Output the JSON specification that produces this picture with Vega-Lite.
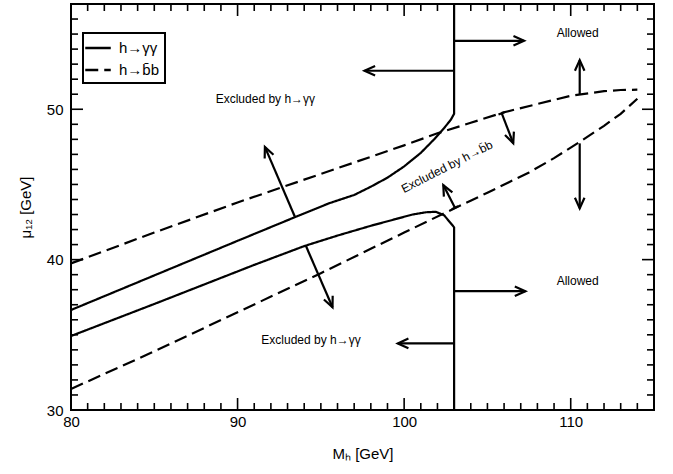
{
  "$schema": "https://vega.github.io/schema/vega-lite/v6.json",
  "width": 583,
  "height": 406,
  "autosize": {"type": "none"},
  "padding": {"left": 71, "top": 4, "right": 19, "bottom": 64},
  "config": {
    "font": "Liberation Sans",
    "view": {"stroke": "black", "strokeWidth": 2},
    "legend": {"strokeWidth": 2},
    "axis": {"grid": false, "domain": false, "labelColor": "black", "titleColor": "black", "tickColor": "black", "titleFontWeight": "normal"}
  },
  "data": {"values": [
    {"kind": "curve", "curve": "gu", "process": "h→γγ", "i": 1, "m": 80, "mu": 36.65},
    {"kind": "curve", "curve": "gu", "process": "h→γγ", "i": 2, "m": 85, "mu": 38.95},
    {"kind": "curve", "curve": "gu", "process": "h→γγ", "i": 3, "m": 90, "mu": 41.25},
    {"kind": "curve", "curve": "gu", "process": "h→γγ", "i": 4, "m": 93.5, "mu": 42.85},
    {"kind": "curve", "curve": "gu", "process": "h→γγ", "i": 5, "m": 95.5, "mu": 43.75},
    {"kind": "curve", "curve": "gu", "process": "h→γγ", "i": 6, "m": 97, "mu": 44.3},
    {"kind": "curve", "curve": "gu", "process": "h→γγ", "i": 7, "m": 98, "mu": 44.85},
    {"kind": "curve", "curve": "gu", "process": "h→γγ", "i": 8, "m": 99, "mu": 45.45},
    {"kind": "curve", "curve": "gu", "process": "h→γγ", "i": 9, "m": 100, "mu": 46.2},
    {"kind": "curve", "curve": "gu", "process": "h→γγ", "i": 10, "m": 101, "mu": 47.1},
    {"kind": "curve", "curve": "gu", "process": "h→γγ", "i": 11, "m": 101.8, "mu": 48.0},
    {"kind": "curve", "curve": "gu", "process": "h→γγ", "i": 12, "m": 102.4, "mu": 48.75},
    {"kind": "curve", "curve": "gu", "process": "h→γγ", "i": 13, "m": 102.8, "mu": 49.3},
    {"kind": "curve", "curve": "gu", "process": "h→γγ", "i": 14, "m": 103, "mu": 49.7},
    {"kind": "curve", "curve": "gu", "process": "h→γγ", "i": 15, "m": 103, "mu": 57},
    {"kind": "curve", "curve": "gl", "process": "h→γγ", "i": 1, "m": 80, "mu": 34.92},
    {"kind": "curve", "curve": "gl", "process": "h→γγ", "i": 2, "m": 85, "mu": 37.05},
    {"kind": "curve", "curve": "gl", "process": "h→γγ", "i": 3, "m": 88, "mu": 38.35},
    {"kind": "curve", "curve": "gl", "process": "h→γγ", "i": 4, "m": 91, "mu": 39.65},
    {"kind": "curve", "curve": "gl", "process": "h→γγ", "i": 5, "m": 94, "mu": 40.9},
    {"kind": "curve", "curve": "gl", "process": "h→γγ", "i": 6, "m": 96, "mu": 41.6},
    {"kind": "curve", "curve": "gl", "process": "h→γγ", "i": 7, "m": 98, "mu": 42.25},
    {"kind": "curve", "curve": "gl", "process": "h→γγ", "i": 8, "m": 99.5, "mu": 42.7},
    {"kind": "curve", "curve": "gl", "process": "h→γγ", "i": 9, "m": 100.5, "mu": 43.0},
    {"kind": "curve", "curve": "gl", "process": "h→γγ", "i": 10, "m": 101.3, "mu": 43.15},
    {"kind": "curve", "curve": "gl", "process": "h→γγ", "i": 11, "m": 101.9, "mu": 43.18},
    {"kind": "curve", "curve": "gl", "process": "h→γγ", "i": 12, "m": 102.4, "mu": 42.95},
    {"kind": "curve", "curve": "gl", "process": "h→γγ", "i": 13, "m": 103, "mu": 42.15},
    {"kind": "curve", "curve": "gl", "process": "h→γγ", "i": 14, "m": 103, "mu": 30},
    {"kind": "curve", "curve": "bu", "process": "h→b̄b", "i": 1, "m": 80, "mu": 39.75},
    {"kind": "curve", "curve": "bu", "process": "h→b̄b", "i": 2, "m": 85, "mu": 41.8},
    {"kind": "curve", "curve": "bu", "process": "h→b̄b", "i": 3, "m": 90, "mu": 43.8},
    {"kind": "curve", "curve": "bu", "process": "h→b̄b", "i": 4, "m": 95, "mu": 45.7},
    {"kind": "curve", "curve": "bu", "process": "h→b̄b", "i": 5, "m": 100, "mu": 47.6},
    {"kind": "curve", "curve": "bu", "process": "h→b̄b", "i": 6, "m": 102, "mu": 48.4},
    {"kind": "curve", "curve": "bu", "process": "h→b̄b", "i": 7, "m": 104, "mu": 49.1},
    {"kind": "curve", "curve": "bu", "process": "h→b̄b", "i": 8, "m": 106, "mu": 49.8},
    {"kind": "curve", "curve": "bu", "process": "h→b̄b", "i": 9, "m": 108, "mu": 50.35},
    {"kind": "curve", "curve": "bu", "process": "h→b̄b", "i": 10, "m": 110, "mu": 50.9},
    {"kind": "curve", "curve": "bu", "process": "h→b̄b", "i": 11, "m": 112, "mu": 51.2},
    {"kind": "curve", "curve": "bu", "process": "h→b̄b", "i": 12, "m": 113, "mu": 51.28},
    {"kind": "curve", "curve": "bu", "process": "h→b̄b", "i": 13, "m": 114, "mu": 51.3},
    {"kind": "curve", "curve": "bl", "process": "h→b̄b", "i": 1, "m": 80, "mu": 31.4},
    {"kind": "curve", "curve": "bl", "process": "h→b̄b", "i": 2, "m": 85, "mu": 33.9},
    {"kind": "curve", "curve": "bl", "process": "h→b̄b", "i": 3, "m": 90, "mu": 36.5},
    {"kind": "curve", "curve": "bl", "process": "h→b̄b", "i": 4, "m": 95, "mu": 39.1},
    {"kind": "curve", "curve": "bl", "process": "h→b̄b", "i": 5, "m": 100, "mu": 41.8},
    {"kind": "curve", "curve": "bl", "process": "h→b̄b", "i": 6, "m": 103, "mu": 43.4},
    {"kind": "curve", "curve": "bl", "process": "h→b̄b", "i": 7, "m": 105, "mu": 44.45},
    {"kind": "curve", "curve": "bl", "process": "h→b̄b", "i": 8, "m": 107.5, "mu": 45.8},
    {"kind": "curve", "curve": "bl", "process": "h→b̄b", "i": 9, "m": 109, "mu": 46.75},
    {"kind": "curve", "curve": "bl", "process": "h→b̄b", "i": 10, "m": 110.5, "mu": 47.8},
    {"kind": "curve", "curve": "bl", "process": "h→b̄b", "i": 11, "m": 112, "mu": 48.9},
    {"kind": "curve", "curve": "bl", "process": "h→b̄b", "i": 12, "m": 113, "mu": 49.7},
    {"kind": "curve", "curve": "bl", "process": "h→b̄b", "i": 13, "m": 114, "mu": 50.7},
    {"kind": "arrow", "m": 93.44, "mu": 42.85, "m2": 91.64, "mu2": 47.5, "bar": false},
    {"kind": "arrow", "m": 94.1, "mu": 40.92, "m2": 95.7, "mu2": 36.83, "bar": false},
    {"kind": "arrow", "m": 103, "mu": 54.55, "m2": 107.2, "mu2": 54.55, "bar": false},
    {"kind": "arrow", "m": 103, "mu": 52.56, "m2": 97.62, "mu2": 52.56, "bar": false},
    {"kind": "arrow", "m": 103, "mu": 37.9, "m2": 107.28, "mu2": 37.9, "bar": false},
    {"kind": "arrow", "m": 103, "mu": 34.43, "m2": 99.62, "mu2": 34.43, "bar": false},
    {"kind": "arrow", "m": 110.54, "mu": 51.0, "m2": 110.54, "mu2": 53.27, "bar": false},
    {"kind": "arrow", "m": 110.54, "mu": 47.73, "m2": 110.54, "mu2": 43.41, "bar": false},
    {"kind": "arrow", "m": 105.86, "mu": 49.73, "m2": 106.55, "mu2": 47.74, "bar": true},
    {"kind": "arrow", "m": 103.05, "mu": 43.45, "m2": 102.35, "mu2": 44.96, "bar": true},
    {"kind": "note", "m": 91.67, "mu": 50.66, "label": "Excluded by h→γγ"},
    {"kind": "note", "m": 94.41, "mu": 34.66, "label": "Excluded by h→γγ"},
    {"kind": "note", "m": 110.42, "mu": 55.05, "label": "Allowed"},
    {"kind": "note", "m": 110.42, "mu": 38.56, "label": "Allowed"},
    {"kind": "slant", "m": 102.57, "mu": 46.18, "label": "Excluded by h→b̄b"},
    {"kind": "xtick", "v": 81, "major": false}, {"kind": "xtick", "v": 82, "major": false},
    {"kind": "xtick", "v": 83, "major": false}, {"kind": "xtick", "v": 84, "major": false},
    {"kind": "xtick", "v": 85, "major": false}, {"kind": "xtick", "v": 86, "major": false},
    {"kind": "xtick", "v": 87, "major": false}, {"kind": "xtick", "v": 88, "major": false},
    {"kind": "xtick", "v": 89, "major": false}, {"kind": "xtick", "v": 90, "major": true},
    {"kind": "xtick", "v": 91, "major": false}, {"kind": "xtick", "v": 92, "major": false},
    {"kind": "xtick", "v": 93, "major": false}, {"kind": "xtick", "v": 94, "major": false},
    {"kind": "xtick", "v": 95, "major": false}, {"kind": "xtick", "v": 96, "major": false},
    {"kind": "xtick", "v": 97, "major": false}, {"kind": "xtick", "v": 98, "major": false},
    {"kind": "xtick", "v": 99, "major": false}, {"kind": "xtick", "v": 100, "major": true},
    {"kind": "xtick", "v": 101, "major": false}, {"kind": "xtick", "v": 102, "major": false},
    {"kind": "xtick", "v": 103, "major": false}, {"kind": "xtick", "v": 104, "major": false},
    {"kind": "xtick", "v": 105, "major": false}, {"kind": "xtick", "v": 106, "major": false},
    {"kind": "xtick", "v": 107, "major": false}, {"kind": "xtick", "v": 108, "major": false},
    {"kind": "xtick", "v": 109, "major": false}, {"kind": "xtick", "v": 110, "major": true},
    {"kind": "xtick", "v": 111, "major": false}, {"kind": "xtick", "v": 112, "major": false},
    {"kind": "xtick", "v": 113, "major": false}, {"kind": "xtick", "v": 114, "major": false},
    {"kind": "ytick", "v": 31, "major": false}, {"kind": "ytick", "v": 32, "major": false},
    {"kind": "ytick", "v": 33, "major": false}, {"kind": "ytick", "v": 34, "major": false},
    {"kind": "ytick", "v": 35, "major": false}, {"kind": "ytick", "v": 36, "major": false},
    {"kind": "ytick", "v": 37, "major": false}, {"kind": "ytick", "v": 38, "major": false},
    {"kind": "ytick", "v": 39, "major": false}, {"kind": "ytick", "v": 40, "major": true},
    {"kind": "ytick", "v": 41, "major": false}, {"kind": "ytick", "v": 42, "major": false},
    {"kind": "ytick", "v": 43, "major": false}, {"kind": "ytick", "v": 44, "major": false},
    {"kind": "ytick", "v": 45, "major": false}, {"kind": "ytick", "v": 46, "major": false},
    {"kind": "ytick", "v": 47, "major": false}, {"kind": "ytick", "v": 48, "major": false},
    {"kind": "ytick", "v": 49, "major": false}, {"kind": "ytick", "v": 50, "major": true},
    {"kind": "ytick", "v": 51, "major": false}, {"kind": "ytick", "v": 52, "major": false},
    {"kind": "ytick", "v": 53, "major": false}, {"kind": "ytick", "v": 54, "major": false},
    {"kind": "ytick", "v": 55, "major": false}, {"kind": "ytick", "v": 56, "major": false}
  ]},
  "resolve": {"axis": {"x": "independent", "y": "independent"}},
  "layer": [
    {
      "transform": [{"filter": "datum.kind === 'curve'"}],
      "mark": {"type": "line", "color": "black", "strokeWidth": 2.2},
      "encoding": {
        "x": {"field": "m", "type": "quantitative", "scale": {"domain": [80, 115], "nice": false, "zero": false},
              "axis": {"orient": "bottom", "values": [80, 90, 100, 110], "ticks": false, "labelFontSize": 15, "labelPadding": 4, "labelFlush": false, "title": "Mₕ [GeV]", "titleFontSize": 15, "titlePadding": 17}},
        "y": {"field": "mu", "type": "quantitative", "scale": {"domain": [30, 57], "nice": false, "zero": false},
              "axis": {"orient": "left", "values": [30, 40, 50], "ticks": false, "labelFontSize": 15, "labelPadding": 8, "labelFlush": false, "title": "μ₁₂ [GeV]", "titleFontSize": 15, "titlePadding": 13}},
        "detail": {"field": "curve"},
        "order": {"field": "i", "type": "quantitative"},
        "strokeDash": {"field": "process", "type": "nominal",
          "scale": {"domain": ["h→γγ", "h→b̄b"], "range": [[1, 0], [13, 6]]},
          "legend": {"orient": "none", "legendX": 12, "legendY": 29, "title": null, "strokeColor": "black", "fillColor": "white", "padding": 5, "labelFontSize": 15, "labelOffset": 11, "symbolType": "M-1.5,0L1.5,0", "symbolSize": 289, "symbolStrokeWidth": 2.5, "symbolStrokeColor": "black", "rowPadding": 4, "labelColor": "black"}}
      }
    },
    {
      "transform": [{"filter": "datum.kind === 'xtick'"}],
      "mark": {"type": "tick", "orient": "vertical", "color": "black", "thickness": 1.6, "clip": true, "opacity": 1},
      "encoding": {
        "x": {"field": "v", "type": "quantitative", "scale": {"domain": [80, 115], "nice": false, "zero": false}, "axis": null},
        "y": {"datum": 30, "type": "quantitative", "scale": {"domain": [30, 57], "nice": false, "zero": false}, "axis": null},
        "size": {"condition": {"test": "datum.major", "value": 24}, "value": 14}
      }
    },
    {
      "transform": [{"filter": "datum.kind === 'xtick'"}],
      "mark": {"type": "tick", "orient": "vertical", "color": "black", "thickness": 1.6, "clip": true, "opacity": 1},
      "encoding": {
        "x": {"field": "v", "type": "quantitative", "scale": {"domain": [80, 115], "nice": false, "zero": false}, "axis": null},
        "y": {"datum": 57, "type": "quantitative", "scale": {"domain": [30, 57], "nice": false, "zero": false}, "axis": null},
        "size": {"condition": {"test": "datum.major", "value": 24}, "value": 14}
      }
    },
    {
      "transform": [{"filter": "datum.kind === 'ytick'"}],
      "mark": {"type": "tick", "orient": "horizontal", "color": "black", "thickness": 1.6, "clip": true, "opacity": 1},
      "encoding": {
        "x": {"datum": 80, "type": "quantitative", "scale": {"domain": [80, 115], "nice": false, "zero": false}, "axis": null},
        "y": {"field": "v", "type": "quantitative", "scale": {"domain": [30, 57], "nice": false, "zero": false}, "axis": null},
        "size": {"condition": {"test": "datum.major", "value": 24}, "value": 14}
      }
    },
    {
      "transform": [{"filter": "datum.kind === 'ytick'"}],
      "mark": {"type": "tick", "orient": "horizontal", "color": "black", "thickness": 1.6, "clip": true, "opacity": 1},
      "encoding": {
        "x": {"datum": 115, "type": "quantitative", "scale": {"domain": [80, 115], "nice": false, "zero": false}, "axis": null},
        "y": {"field": "v", "type": "quantitative", "scale": {"domain": [30, 57], "nice": false, "zero": false}, "axis": null},
        "size": {"condition": {"test": "datum.major", "value": 24}, "value": 14}
      }
    },
    {
      "transform": [{"filter": "datum.kind === 'arrow'"}],
      "mark": {"type": "rule", "color": "black", "strokeWidth": 2.2},
      "encoding": {
        "x": {"field": "m", "type": "quantitative", "scale": {"domain": [80, 115], "nice": false, "zero": false}, "axis": null},
        "y": {"field": "mu", "type": "quantitative", "scale": {"domain": [30, 57], "nice": false, "zero": false}, "axis": null},
        "x2": {"field": "m2"},
        "y2": {"field": "mu2"}
      }
    },
    {
      "transform": [
        {"filter": "datum.kind === 'arrow'"},
        {"calculate": "atan2((datum.m2 - datum.m) * 583 / 35, (datum.mu2 - datum.mu) * 406 / 27) * 180 / PI", "as": "heading"}
      ],
      "mark": {"type": "point", "shape": "M-0.45,1L0,0L0.45,1", "filled": false, "stroke": "black", "strokeWidth": 2.2, "size": 450, "opacity": 1, "strokeJoin": "miter"},
      "encoding": {
        "x": {"field": "m2", "type": "quantitative", "scale": {"domain": [80, 115], "nice": false, "zero": false}, "axis": null},
        "y": {"field": "mu2", "type": "quantitative", "scale": {"domain": [30, 57], "nice": false, "zero": false}, "axis": null},
        "angle": {"field": "heading", "type": "quantitative", "scale": null}
      }
    },
    {
      "transform": [
        {"filter": "datum.kind === 'arrow' && datum.bar"},
        {"calculate": "atan2((datum.m2 - datum.m) * 583 / 35, (datum.mu2 - datum.mu) * 406 / 27) * 180 / PI", "as": "heading"}
      ],
      "mark": {"type": "point", "shape": "M-1,0L1,0", "filled": false, "stroke": "black", "strokeWidth": 2.2, "size": 49, "opacity": 1},
      "encoding": {
        "x": {"field": "m", "type": "quantitative", "scale": {"domain": [80, 115], "nice": false, "zero": false}, "axis": null},
        "y": {"field": "mu", "type": "quantitative", "scale": {"domain": [30, 57], "nice": false, "zero": false}, "axis": null},
        "angle": {"field": "heading", "type": "quantitative", "scale": null}
      }
    },
    {
      "transform": [{"filter": "datum.kind === 'note'"}],
      "mark": {"type": "text", "fontSize": 12, "color": "black", "align": "center", "baseline": "middle"},
      "encoding": {
        "x": {"field": "m", "type": "quantitative", "scale": {"domain": [80, 115], "nice": false, "zero": false}, "axis": null},
        "y": {"field": "mu", "type": "quantitative", "scale": {"domain": [30, 57], "nice": false, "zero": false}, "axis": null},
        "text": {"field": "label"}
      }
    },
    {
      "transform": [{"filter": "datum.kind === 'slant'"}],
      "mark": {"type": "text", "fontSize": 12, "color": "black", "align": "center", "baseline": "middle", "angle": -27},
      "encoding": {
        "x": {"field": "m", "type": "quantitative", "scale": {"domain": [80, 115], "nice": false, "zero": false}, "axis": null},
        "y": {"field": "mu", "type": "quantitative", "scale": {"domain": [30, 57], "nice": false, "zero": false}, "axis": null},
        "text": {"field": "label"}
      }
    }
  ]
}
